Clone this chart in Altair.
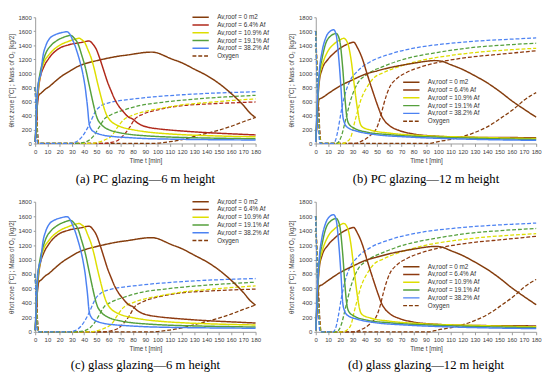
import altair as alt
import pandas as pd

SERIES = ["Av,roof = 0 m2", "Av,roof = 6.4% Af", "Av,roof = 10.9% Af",
          "Av,roof = 19.1% Af", "Av,roof = 38.2% Af"]
LEGEND_ENTRIES = SERIES + ["Oxygen"]
X_TICKS = list(range(0, 181, 10))
Y_TICKS = list(range(0, 1801, 200))
Y_TITLE = "θhot zone [°C] ; Mass of O₂ [kg/2]"
X_TITLE = "Time t [min]"
CAPTIONS = ["(a) PC glazing—6 m height", "(b) PC glazing—12 m height",
            "(c) glass glazing—6 m height", "(d) glass glazing—12 m height"]

COLORS_A = ["#843C0C", "#B0281A", "#DEDE00", "#55A03C", "#4C82F2"]
COLORS_B = ["#843C0C", "#8E3A10", "#DEDE00", "#55A03C", "#4C82F2"]

# ---------------- 6 m height : temperatures ----------------
T6_0_t = [0, 1, 2, 3, 5, 8, 11, 16, 22, 28, 35, 42, 48, 55, 62, 70, 75, 82, 89, 95, 100, 105, 110, 120, 130, 140, 150, 160, 170, 176, 180]
T6_0_v = [20, 300, 600, 690, 720, 770, 805, 880, 965, 1030, 1100, 1145, 1172, 1200, 1226, 1250, 1261, 1280, 1297, 1303, 1290, 1255, 1216, 1149, 1060, 970, 857, 714, 545, 425, 370]
T6_1_t = [0, 1, 2, 3, 4, 7, 11, 19, 27, 38, 44, 47, 50, 53, 56, 59, 62, 65, 68, 72, 76, 80, 83, 87, 92, 100, 110, 120, 140, 160, 180]
T6_1_v = [20, 300, 620, 820, 930, 1090, 1210, 1350, 1405, 1442, 1462, 1420, 1340, 1200, 1040, 880, 750, 630, 540, 453, 380, 345, 300, 260, 232, 210, 192, 178, 155, 138, 122]
T6_2_t = [0, 1, 2, 3, 4, 7, 11, 19, 27, 33, 36, 38, 40.5, 43, 45.8, 48, 51, 54, 56.5, 58.5, 60.5, 63, 66, 72, 80, 91, 105, 120, 140, 160, 180]
T6_2_v = [20, 380, 700, 850, 960, 1150, 1260, 1390, 1455, 1490, 1500, 1480, 1440, 1340, 1216, 1080, 857, 650, 490, 400, 345, 300, 268, 225, 195, 165, 142, 126, 112, 102, 95]
T6_3_t = [0, 1, 2, 3, 4.5, 6, 9, 13, 18, 24, 29, 32, 35, 38, 41, 44, 47, 49, 51, 53, 55, 58, 62, 70, 78, 90, 104, 120, 140, 160, 180]
T6_3_v = [20, 400, 780, 900, 1050, 1150, 1300, 1400, 1470, 1520, 1542, 1500, 1420, 1260, 1080, 840, 600, 453, 345, 290, 252, 215, 184, 150, 128, 110, 96, 86, 78, 72, 66]
T6_4_t = [0, 1, 2, 3, 4.7, 6.1, 8.7, 11.3, 16.6, 21, 26, 28.5, 30.5, 32.5, 34.5, 36.5, 38.5, 39.9, 41, 41.7, 42.5, 43.1, 43.6, 44.2, 45.7, 48.4, 52, 56.3, 65, 75, 88, 110, 140, 180]
T6_4_v = [20, 400, 760, 900, 1000, 1217, 1396, 1486, 1553, 1578, 1593, 1553, 1480, 1396, 1290, 1172, 1030, 902, 780, 677, 560, 453, 350, 273, 205, 162, 135, 116, 97, 85, 72, 62, 55, 50]

# ---------------- 6 m height : oxygen ----------------
O6_0_t = [0, 1.0, 2.0, 3.0, 95, 110, 120, 130, 140, 150, 160, 170, 180]
O6_0_v = [800, 480, 150, 0, 0, 25, 55, 100, 145, 190, 245, 310, 372]
O6_1_t = [0, 0.9, 1.8, 2.7, 55, 62, 68, 72, 77, 81, 88, 99, 117, 144, 162, 180]
O6_1_v = [800, 480, 150, 0, 0, 15, 50, 115, 225, 340, 417, 476, 534, 566, 580, 592]
O6_2_t = [0, 0.8, 1.6, 2.5, 45, 52, 58, 62, 67, 72, 80, 91, 104, 117, 144, 162, 180]
O6_2_v = [800, 480, 150, 0, 0, 20, 60, 100, 225, 335, 405, 462, 505, 543, 590, 615, 635]
O6_3_t = [0, 0.7, 1.4, 2.3, 33, 40, 45, 48, 52, 56, 62, 72, 85, 104, 130, 155, 180]
O6_3_v = [800, 480, 150, 0, 0, 15, 60, 115, 225, 340, 410, 475, 540, 588, 633, 663, 687]
O6_4_t = [0, 0.6, 1.2, 2, 28, 33, 38, 43, 46, 49, 54, 60, 64, 72, 80, 100, 120, 140, 160, 180]
O6_4_v = [800, 480, 150, 0, 0, 20, 90, 230, 340, 450, 540, 580, 597, 618, 635, 670, 695, 714, 727, 738]

# ---------------- 12 m height : temperatures ----------------
T12_0_t = [0, 1, 2, 2.7, 5, 10, 20, 30, 40, 50, 60, 70, 80, 90, 97, 103, 110, 120, 130, 140, 150, 160, 170, 180]
T12_0_v = [20, 300, 560, 630, 650, 710, 822, 907, 985, 1035, 1080, 1115, 1145, 1172, 1182, 1172, 1125, 1055, 965, 865, 745, 610, 490, 375]
T12_1_t = [0, 1, 2, 3, 5, 10, 15, 20, 25, 31, 34, 38, 42, 47, 51, 54, 56.5, 60.5, 68.5, 79, 100, 127, 155, 180]
T12_1_v = [20, 350, 700, 900, 1050, 1200, 1290, 1360, 1410, 1443, 1367, 1210, 987, 719, 518, 384, 317, 250, 183, 138, 103, 88, 85, 82]
T12_2_t = [0, 1, 2, 3, 5, 10, 15, 20, 22.8, 26, 28.7, 31.3, 34, 36.1, 38, 44.6, 60.5, 87, 127, 155, 180]
T12_2_v = [20, 380, 740, 950, 1100, 1320, 1420, 1480, 1500, 1434, 1210, 853, 496, 295, 237, 192, 147, 112, 90, 78, 70]
T12_3_t = [0, 1, 2, 3, 5, 8, 12, 16.7, 19.4, 22, 23.9, 25.5, 27.3, 31.3, 42, 60.5, 100, 140, 180]
T12_3_v = [20, 420, 800, 1000, 1200, 1420, 1530, 1568, 1478, 1076, 630, 362, 272, 219, 161, 125, 90, 70, 58]
T12_4_t = [0, 1, 2, 3, 5, 8, 11, 14.6, 16.7, 18.8, 20.7, 22, 23.4, 26, 34, 47.3, 73.8, 110, 140, 180]
T12_4_v = [20, 450, 800, 1050, 1300, 1500, 1590, 1621, 1545, 1210, 764, 406, 295, 228, 174, 130, 94, 68, 55, 45]

# ---------------- 12 m height : oxygen ----------------
O12_0_t = [0, 1.2, 2.4, 3.4, 4.5, 92, 100, 113.6, 127, 140, 153, 160, 165, 170, 175, 180]
O12_0_v = [1600, 1000, 500, 150, 0, 0, 27, 71, 138, 237, 384, 470, 540, 615, 675, 725]
O12_1_t = [0, 1.1, 2.2, 3.2, 4.2, 32, 36.6, 44.6, 49.9, 52.6, 55.2, 57.9, 60.5, 65.8, 73.8, 87, 100, 127, 153, 180]
O12_1_v = [1600, 1000, 500, 150, 0, 0, 27, 116, 228, 362, 540, 697, 808, 920, 1009, 1099, 1157, 1233, 1277, 1322]
O12_2_t = [0, 1, 2, 3, 4, 22, 25, 28.7, 31.3, 34, 37, 42, 47.3, 55.2, 68.5, 87, 113.6, 140, 160, 180]
O12_2_v = [1600, 1000, 500, 150, 0, 0, 20, 94, 272, 451, 630, 808, 933, 1009, 1099, 1188, 1264, 1313, 1338, 1358]
O12_3_t = [0, 0.9, 1.8, 2.8, 3.8, 17, 19, 20.7, 24.7, 28.7, 34, 42, 55.2, 73.8, 100, 127, 155, 180]
O12_3_v = [1600, 1000, 500, 150, 0, 0, 30, 94, 362, 630, 853, 987, 1099, 1210, 1300, 1367, 1405, 1430]
O12_4_t = [0, 0.8, 1.6, 2.5, 3.5, 14, 16, 18, 20.7, 23.4, 27.3, 34, 44.6, 60.5, 87, 113.6, 140, 160, 180]
O12_4_v = [1600, 1000, 500, 150, 0, 0, 40, 180, 450, 670, 870, 1030, 1165, 1275, 1380, 1434, 1470, 1488, 1505]

TEMPS_6 = [(T6_0_t, T6_0_v), (T6_1_t, T6_1_v), (T6_2_t, T6_2_v), (T6_3_t, T6_3_v), (T6_4_t, T6_4_v)]
OXY_6 = [(O6_0_t, O6_0_v), (O6_1_t, O6_1_v), (O6_2_t, O6_2_v), (O6_3_t, O6_3_v), (O6_4_t, O6_4_v)]
TEMPS_12 = [(T12_0_t, T12_0_v), (T12_1_t, T12_1_v), (T12_2_t, T12_2_v), (T12_3_t, T12_3_v), (T12_4_t, T12_4_v)]
OXY_12 = [(O12_0_t, O12_0_v), (O12_1_t, O12_1_v), (O12_2_t, O12_2_v), (O12_3_t, O12_3_v), (O12_4_t, O12_4_v)]

FONT = "Liberation Sans"


def to_frame(curves, key):
    rows = []
    for name, (ts, vs) in zip(SERIES, curves):
        for t, v in zip(ts, vs):
            rows.append({key: name, "t": t, "v": v})
    return pd.DataFrame(rows)


def panel(temps, oxy, colors, caption, lx, ly, h, cap_offset):
    x = alt.X("t:Q", scale=alt.Scale(domain=[0, 180], nice=False, zero=False),
              axis=alt.Axis(values=X_TICKS, title=X_TITLE, labelOverlap=False, labelFlush=False,
                            tickSize=3, labelPadding=2, titlePadding=3))
    y = alt.Y("v:Q", scale=alt.Scale(domain=[0, 1800], nice=False),
              axis=alt.Axis(values=Y_TICKS, title=Y_TITLE, format="d", tickSize=2,
                            labelPadding=2, titlePadding=4, labelFlush=False))
    leg = alt.Legend(title=None, orient="none", legendX=lx, legendY=ly,
                     symbolType="M-2.8,0H2.8", symbolSize=36, symbolOffset=5.4,
                     labelOffset=13, symbolStrokeWidth=1.5, labelFontSize=6.5,
                     labelFont=FONT, labelColor="#333333", rowPadding=-0.6, padding=0)
    temp = alt.Chart(to_frame(temps, "series")).mark_line(
        strokeWidth=1.5, interpolate="monotone").encode(
        x=x, y=y,
        color=alt.Color("series:N", scale=alt.Scale(domain=LEGEND_ENTRIES, range=colors + [colors[0]]), legend=leg),
        strokeDash=alt.StrokeDash("series:N", scale=alt.Scale(domain=LEGEND_ENTRIES,
                                  range=[[1, 0]] * 5 + [[4, 2]]), legend=leg),
    )
    ox = alt.Chart(to_frame(oxy, "oseries")).mark_line(
        strokeWidth=1.3, strokeDash=[4, 2], interpolate="monotone").encode(
        x=x, y=y,
        color=alt.Color("oseries:N", scale=alt.Scale(domain=SERIES, range=colors), legend=None),
    )
    return alt.layer(ox, temp).resolve_scale(color="independent", strokeDash="independent").properties(
        width=227, height=h,
        title=alt.TitleParams(caption, orient="bottom", anchor="middle", font="Liberation Serif",
                              fontSize=13, fontWeight="normal", color="#000000", offset=cap_offset))


pa = panel(TEMPS_6, OXY_6, COLORS_A, CAPTIONS[0], 161, -4, 130, 10)
pb = panel(TEMPS_12, OXY_12, COLORS_B, CAPTIONS[1], 89, 63, 130, 10)
pc = panel(TEMPS_6, OXY_6, COLORS_B, CAPTIONS[2], 161, -4, 134, 8)
pd_ = panel(TEMPS_12, OXY_12, COLORS_B, CAPTIONS[3], 89, 63, 134, 8)

chart = alt.vconcat(
    alt.hconcat(pa, pb, spacing=19),
    alt.hconcat(pc, pd_, spacing=19),
    spacing=12,
).properties(padding=0).configure_view(stroke=None).configure_axis(
    grid=False, domainColor="#9a9a9a", tickColor="#9a9a9a", labelColor="#404040",
    titleColor="#404040", labelFont=FONT, titleFont=FONT, labelFontSize=6.2,
    titleFontSize=6.5, titleFontWeight="normal",
)

chart.save("out.html", embed_options={"renderer": "svg", "actions": False})
